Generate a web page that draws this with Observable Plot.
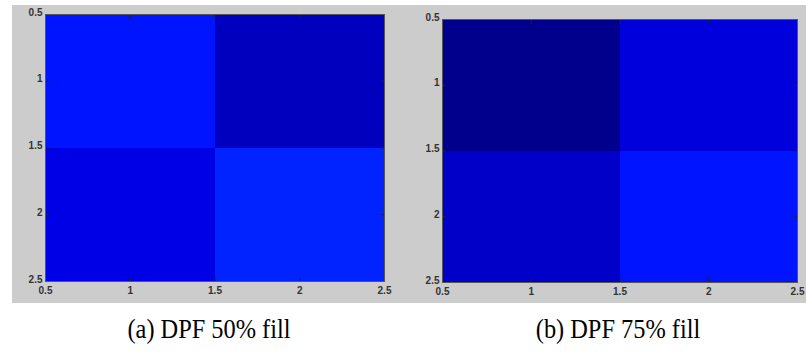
<!DOCTYPE html>
<html>
<head>
<meta charset="utf-8">
<script src="https://cdn.jsdelivr.net/npm/d3@7"></script>
<script src="https://cdn.jsdelivr.net/npm/@observablehq/plot@0.6"></script>
<style>
  html, body { margin: 0; padding: 0; background: #fff; }
  #wrap { position: relative; width: 806px; height: 358px; overflow: hidden; }
  #bg { position: absolute; left: 12px; top: 5px; width: 794px; height: 298px; background: #cccccc; }
  .panel { position: absolute; top: 0; }
  .cap { position: absolute; top: 313px; font-family: "Liberation Serif", "DejaVu Serif", serif; font-size: 28px; line-height: 32px; color: #000; text-align: center; white-space: nowrap; transform: scaleX(0.87); transform-origin: center; }
</style>
</head>
<body>
<div id="wrap">
  <div id="bg"></div>
  <div id="pa" class="panel" style="left:0px"></div>
  <div id="pb" class="panel" style="left:400px"></div>
  <div class="cap" style="left:49px; width:320px">(a) DPF 50% fill</div>
  <div class="cap" style="left:458px; width:320px">(b) DPF 75% fill</div>
</div>
<script>
// Grid cell centres (column x, row y) for the 2x2 images
const cellX = [1, 2, 1, 2];
const cellY = [1, 1, 2, 2];
// Colour index (jet colormap position) of each cell
const fill50 = [0.145, 0.061, 0.100, 0.159];
const fill75 = [0.012, 0.091, 0.071, 0.145];
// Tick labels
const ticks = [0.5, 1, 1.5, 2, 2.5];
const innerTicks = [1, 1.5, 2];

function jet(t) {
  const c = v => Math.max(0, Math.min(1, v));
  const r = c(1.5 - Math.abs(4 * t - 3));
  const g = c(1.5 - Math.abs(4 * t - 2));
  const b = c(1.5 - Math.abs(4 * t - 1));
  return `rgb(${Math.round(r * 255)},${Math.round(g * 255)},${Math.round(b * 255)})`;
}

function panel(values, opts) {
  const data = values.map((v, i) => ({x: cellX[i], y: cellY[i], v}));
  const tickStyle = {fontSize: 10, fontFamily: "Arial, 'Liberation Sans', sans-serif", fill: "#333", fontWeight: "bold"};
  return Plot.plot({
    width: opts.width,
    height: 303,
    marginLeft: opts.ml,
    marginRight: opts.mr,
    marginTop: opts.mt,
    marginBottom: opts.mb,
    style: {background: "transparent", overflow: "visible"},
    x: {domain: [0.5, 2.5], ticks: ticks, label: null},
    y: {domain: [0.5, 2.5], reverse: true, ticks: ticks, label: null},
    color: {type: "linear", domain: [0, 1], interpolate: jet},
    marks: [
      Plot.rect(data, {x1: d => d.x - 0.5, x2: d => d.x + 0.5, y1: d => d.y - 0.5, y2: d => d.y + 0.5, fill: "v", shapeRendering: "crispEdges"}),
      Plot.axisX(ticks, {anchor: "bottom", tickSize: 0, tickPadding: 5, tickFormat: d => String(d), ...tickStyle}),
      Plot.axisY(ticks, {anchor: "left", tickSize: 0, tickPadding: 3, dy: -2, tickFormat: d => String(d), ...tickStyle}),
      Plot.axisX(innerTicks, {anchor: "bottom", tickSize: -4, text: null, stroke: "#222"}),
      Plot.axisX(innerTicks, {anchor: "top", tickSize: -4, text: null, stroke: "#222"}),
      Plot.axisY(innerTicks, {anchor: "left", tickSize: -4, text: null, stroke: "#222"}),
      Plot.axisY(innerTicks, {anchor: "right", tickSize: -4, text: null, stroke: "#222"}),
      Plot.frame({stroke: "#555", strokeWidth: 1})
    ]
  });
}

document.getElementById("pa").appendChild(panel(fill50, {width: 400, ml: 45, mr: 16, mt: 14, mb: 22}));
document.getElementById("pb").appendChild(panel(fill75, {width: 406, ml: 42, mr: 9, mt: 19, mb: 21}));
</script>
</body>
</html>
